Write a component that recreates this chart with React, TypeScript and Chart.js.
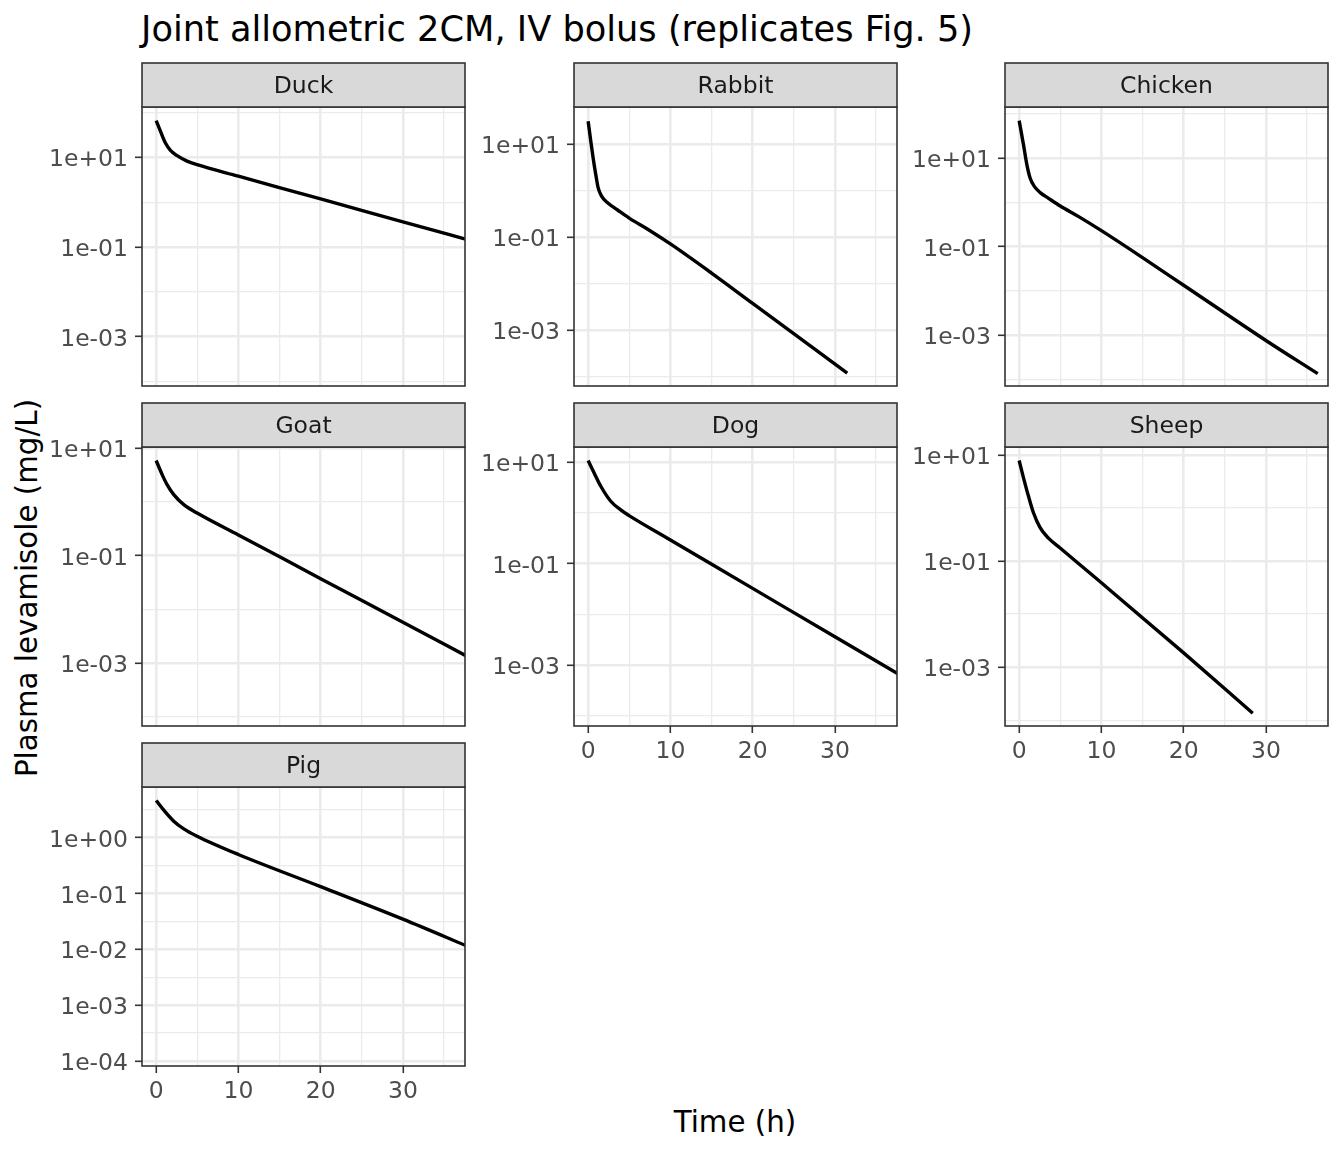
import { useEffect, useRef } from 'react';
import { Chart, registerables } from 'chart.js';

Chart.register(...registerables);
Chart.defaults.font.family = '"DejaVu Sans", sans-serif';

// time after dose (h) / plasma levamisole (mg/L)
const duckTime = [0, 0.53, 1.13, 1.74, 2.55, 3.76, 4.98, 10, 20, 30, 38];
const duckConc = [66.2, 38.2, 20.9, 14.4, 10.9, 8.24, 6.85, 3.8, 1.18, 0.365, 0.143];

const rabbitTime = [0, 0.33, 0.61, 0.93, 1.22, 1.63, 2.36, 3.58, 5.08, 7.24, 10, 15, 20, 31.5];
const rabbitConc = [30.8, 11.2, 4.95, 2.19, 1.14, 0.759, 0.547, 0.382, 0.249, 0.148, 0.0713, 0.0169, 0.00378, 1.21e-4];

const chickenTime = [0, 0.53, 0.93, 1.34, 1.87, 2.56, 3.58, 5, 7.24, 10, 15, 20, 30, 36.3];
const chickenConc = [70.8, 19.95, 7.24, 3.51, 2.27, 1.66, 1.233, 0.826, 0.475, 0.229, 0.0562, 0.01334, 7.5e-4, 1.33e-4];

const goatTime = [0, 0.73, 1.33, 2.14, 3.36, 4.98, 10, 20, 30, 38];
const goatConc = [5.81, 3.18, 2.07, 1.35, 0.88, 0.615, 0.241, 0.0372, 0.00575, 0.00129];

const dogTime = [0, 0.73, 1.54, 2.75, 3.96, 4.98, 10, 20, 30, 38];
const dogConc = [10.8, 6.16, 3.36, 1.7, 1.148, 0.886, 0.294, 0.0327, 0.00363, 6.3e-4];

const sheepTime = [0, 0.53, 1.13, 1.74, 2.55, 3.56, 4.98, 7.5, 10, 20, 28.4];
const sheepConc = [7.82, 3.69, 1.67, 0.811, 0.424, 0.269, 0.176, 0.0826, 0.0389, 0.00186, 1.36e-4];

const pigTime = [0, 0.93, 2.14, 3.36, 4.98, 10, 20, 30, 38];
const pigConc = [4.67, 3.13, 1.99, 1.45, 1.07, 0.502, 0.133, 0.0347, 0.0111];

// free y scales (mg/L)
const duckYRange = [7.92e-5, 133];
const rabbitYRange = [6.37e-5, 62.1];
const chickenYRange = [7.5e-5, 143.6];
const goatYRange = [6.82e-5, 10.35];
const dogYRange = [6.34e-5, 19.95];
const sheepYRange = [7.82e-5, 14.03];
const pigYRange = [8.07e-5, 8.15];

const yMajorTicks = [10, 0.1, 0.001];
const yMinorTicks = [100, 1, 0.01, 0.0001];
const pigMajorTicks = [1, 0.1, 0.01, 0.001, 0.0001];
const pigMinorTicks = [3.162, 0.3162, 0.03162, 0.003162, 0.0003162];

const xRange = [-1.72, 37.55];
const xMajorTicks = [0, 10, 20, 30];
const xMinorTicks = [5, 15, 25, 35];

const COL_LEFT = [142, 574, 1005];
const ROW_TOP = [107, 447, 787];
const PANEL_W = 323;
const PANEL_H = 279;
const STRIP_H = 44;
const AXIS_W = 100;
const XAXIS_H = 45;
const PAD = 3;

type PanelDef = {
  name: string;
  time: number[];
  conc: number[];
  yRange: number[];
  major: number[];
  minor: number[];
  col: number;
  row: number;
  xAxis: boolean;
};

const panels: PanelDef[] = [
  { name: 'Duck', time: duckTime, conc: duckConc, yRange: duckYRange, major: yMajorTicks, minor: yMinorTicks, col: 0, row: 0, xAxis: false },
  { name: 'Rabbit', time: rabbitTime, conc: rabbitConc, yRange: rabbitYRange, major: yMajorTicks, minor: yMinorTicks, col: 1, row: 0, xAxis: false },
  { name: 'Chicken', time: chickenTime, conc: chickenConc, yRange: chickenYRange, major: yMajorTicks, minor: yMinorTicks, col: 2, row: 0, xAxis: false },
  { name: 'Goat', time: goatTime, conc: goatConc, yRange: goatYRange, major: yMajorTicks, minor: yMinorTicks, col: 0, row: 1, xAxis: false },
  { name: 'Dog', time: dogTime, conc: dogConc, yRange: dogYRange, major: yMajorTicks, minor: yMinorTicks, col: 1, row: 1, xAxis: true },
  { name: 'Sheep', time: sheepTime, conc: sheepConc, yRange: sheepYRange, major: yMajorTicks, minor: yMinorTicks, col: 2, row: 1, xAxis: true },
  { name: 'Pig', time: pigTime, conc: pigConc, yRange: pigYRange, major: pigMajorTicks, minor: pigMinorTicks, col: 0, row: 2, xAxis: true },
];

function sciLabel(v: number) {
  const e = Math.round(Math.log10(v));
  return '1e' + (e < 0 ? '-' : '+') + String(Math.abs(e)).padStart(2, '0');
}

function tickList(major: number[], minor: number[], lo: number, hi: number) {
  return [
    ...major.map((v) => ({ value: v, minor: false })),
    ...minor.map((v) => ({ value: v, minor: true })),
  ]
    .filter((t) => t.value >= lo && t.value <= hi)
    .sort((a, b) => a.value - b.value);
}

// ggplot-like panel border and facet strip
function framePlugin(label: string) {
  return {
    id: 'frame',
    afterDraw(chart: Chart) {
      const { ctx, chartArea: a } = chart;
      const w = a.right - a.left;
      const top = a.top - STRIP_H;
      ctx.save();
      ctx.lineWidth = 1.6;
      ctx.strokeStyle = '#333333';
      ctx.strokeRect(a.left, a.top, w, a.bottom - a.top);
      ctx.fillStyle = '#D9D9D9';
      ctx.fillRect(a.left, top, w, STRIP_H);
      ctx.strokeRect(a.left, top, w, STRIP_H);
      ctx.fillStyle = '#1A1A1A';
      ctx.font = '23.5px "DejaVu Sans"';
      ctx.textAlign = 'center';
      ctx.textBaseline = 'alphabetic';
      ctx.fillText(label, a.left + w / 2, top + STRIP_H / 2 + 8.3);
      ctx.restore();
    },
  };
}

function Panel({ p }: { p: PanelDef }) {
  const canvasRef = useRef<HTMLCanvasElement>(null);
  const width = AXIS_W + PANEL_W + PAD;
  const height = PAD + STRIP_H + PANEL_H + (p.xAxis ? XAXIS_H : 0) + PAD;

  useEffect(() => {
    if (!canvasRef.current) return;
    const gridWidth = (c: any) => (c.tick && c.tick.minor ? 1.3 : 2.6);
    const tickColor = (c: any) => (c.tick && c.tick.minor ? 'rgba(0,0,0,0)' : '#333333');

    const chart = new Chart(canvasRef.current, {
      type: 'line',
      data: {
        datasets: [
          {
            data: p.time.map((t, i) => ({ x: t, y: p.conc[i] })),
            borderColor: '#000000',
            borderWidth: 3.4,
            pointRadius: 0,
            fill: false,
            cubicInterpolationMode: 'monotone',
            clip: 0,
          },
        ],
      },
      options: {
        animation: false,
        responsive: false,
        events: [],
        layout: { padding: { left: 0, top: PAD + STRIP_H, right: PAD, bottom: PAD } },
        plugins: { legend: { display: false }, tooltip: { enabled: false } },
        scales: {
          x: {
            type: 'linear',
            min: xRange[0],
            max: xRange[1],
            afterBuildTicks: (s: any) => {
              s.ticks = tickList(xMajorTicks, xMinorTicks, xRange[0], xRange[1]);
            },
            afterFit: (s: any) => {
              s.height = p.xAxis ? XAXIS_H : 0;
              s.paddingLeft = 0;
              s.paddingRight = 0;
            },
            border: { display: false },
            grid: {
              color: '#EBEBEB',
              lineWidth: gridWidth,
              drawTicks: p.xAxis,
              tickLength: 7,
              tickWidth: 1.6,
              tickColor,
            },
            ticks: {
              display: p.xAxis,
              autoSkip: false,
              maxRotation: 0,
              padding: 5,
              color: '#4D4D4D',
              font: { size: 23.5 },
              callback: (v: any) => (xMajorTicks.includes(v) ? String(v) : ''),
            },
          },
          y: {
            type: 'logarithmic',
            position: 'left',
            min: p.yRange[0],
            max: p.yRange[1],
            afterBuildTicks: (s: any) => {
              s.ticks = tickList(p.major, p.minor, p.yRange[0], p.yRange[1]);
            },
            afterFit: (s: any) => {
              s.width = AXIS_W;
              s.paddingTop = 0;
              s.paddingBottom = 0;
            },
            border: { display: false },
            grid: {
              color: '#EBEBEB',
              lineWidth: gridWidth,
              drawTicks: true,
              tickLength: 7,
              tickWidth: 1.6,
              tickColor,
            },
            ticks: {
              autoSkip: false,
              padding: 7,
              labelOffset: 3,
              color: '#4D4D4D',
              font: { size: 23.5 },
              callback: (v: any) => (p.major.includes(v) ? sciLabel(v) : ''),
            },
          },
        },
      },
      plugins: [framePlugin(p.name)],
    } as any);

    return () => chart.destroy();
  }, [p]);

  return (
    <canvas
      ref={canvasRef}
      width={width}
      height={height}
      style={{
        position: 'absolute',
        left: COL_LEFT[p.col] - AXIS_W,
        top: ROW_TOP[p.row] - STRIP_H - PAD,
        width,
        height,
      }}
    />
  );
}

export default function App() {
  return (
    <div
      style={{
        position: 'absolute',
        left: 0,
        top: 0,
        width: 1344,
        height: 1152,
        background: '#FFFFFF',
        overflow: 'hidden',
        fontFamily: '"DejaVu Sans", sans-serif',
        color: '#000000',
      }}
    >
      <div style={{ position: 'absolute', left: 141, top: 11, fontSize: 35.2, lineHeight: 1, whiteSpace: 'nowrap' }}>
        Joint allometric 2CM, IV bolus (replicates Fig. 5)
      </div>
      <div
        style={{
          position: 'absolute',
          left: 28,
          top: 588,
          fontSize: 29.33,
          lineHeight: 1,
          whiteSpace: 'nowrap',
          transform: 'translate(-50%, -50%) rotate(-90deg)',
        }}
      >
        Plasma levamisole (mg/L)
      </div>
      <div
        style={{
          position: 'absolute',
          left: 735,
          top: 1108,
          fontSize: 29.33,
          lineHeight: 1,
          whiteSpace: 'nowrap',
          transform: 'translateX(-50%)',
        }}
      >
        Time (h)
      </div>
      {panels.map((p) => (
        <Panel key={p.name} p={p} />
      ))}
    </div>
  );
}
